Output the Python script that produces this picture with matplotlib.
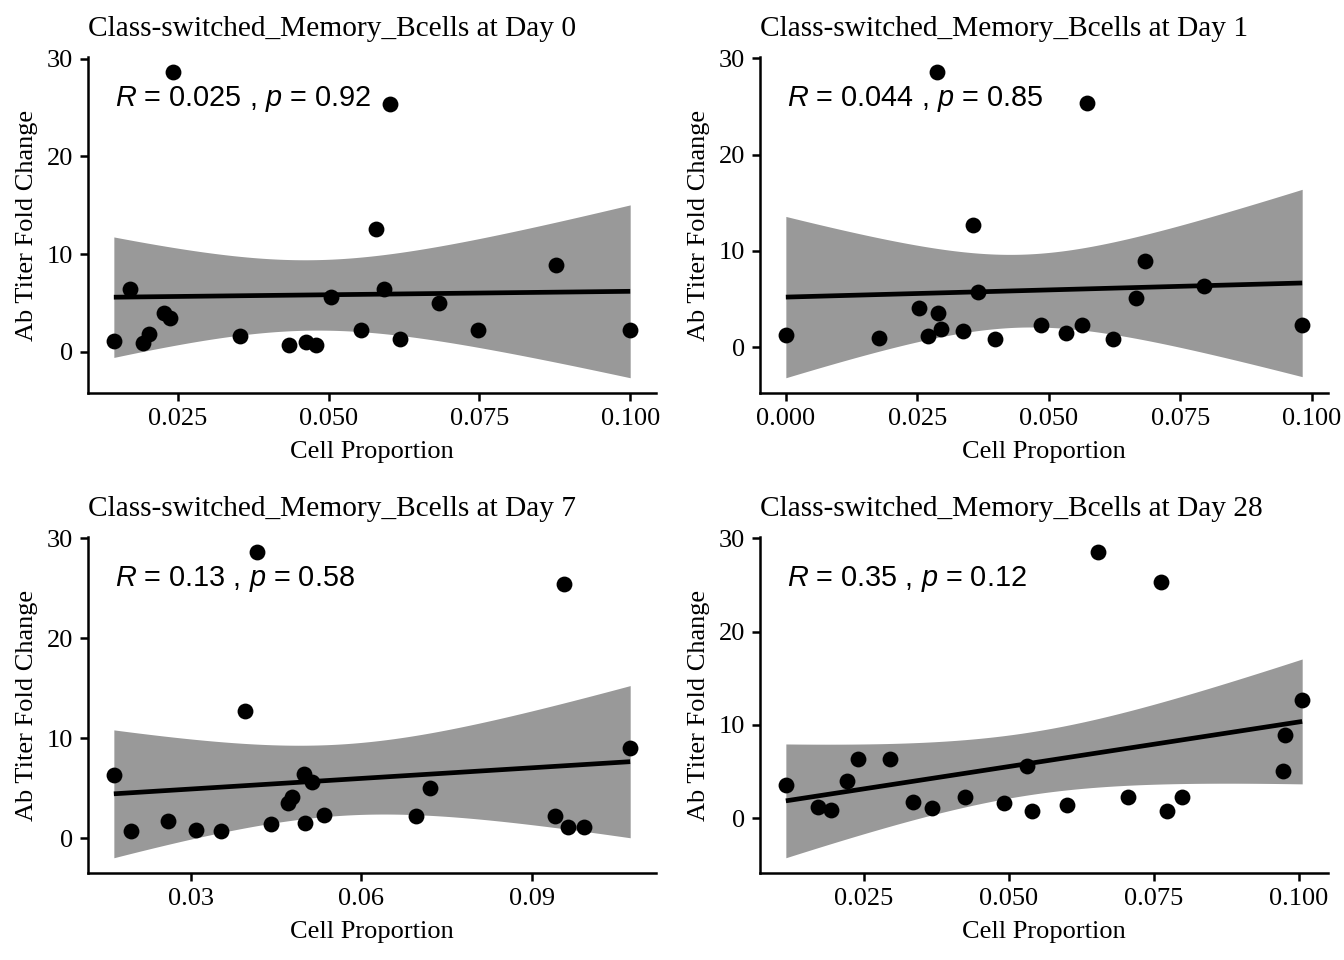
import numpy as np
import matplotlib
matplotlib.use("Agg")
import matplotlib.pyplot as plt

plt.rcParams['font.family'] = ['Liberation Serif', 'DejaVu Serif']
plt.rcParams['mathtext.fontset'] = 'custom'
plt.rcParams['mathtext.rm'] = 'Liberation Sans'
plt.rcParams['mathtext.it'] = 'Liberation Sans:italic'

# cell proportion / fold change
day0_x = [0.0242, 0.0601, 0.0578, 0.0877, 0.0170, 0.0592, 0.0504, 0.0683, 0.0227, 0.0237, 0.0202,
          0.0193, 0.0144, 0.0353, 0.0435, 0.0463, 0.0479, 0.0554, 0.0618, 0.0747, 0.1000]
day0_y = [28.6, 25.4, 12.6, 8.9, 6.4, 6.4, 5.6, 5.0, 4.0, 3.5, 1.8,
          0.85, 1.1, 1.6, 0.74, 1.0, 0.74, 2.2, 1.35, 2.2, 2.2]

day1_x = [0.0287, 0.0572, 0.0355, 0.0683, 0.0796, 0.0366, 0.0665, 0.0254, 0.0290, 0.0296,
          0.0270, 0.0000, 0.0177, 0.0337, 0.0398, 0.0485, 0.0532, 0.0563, 0.0622, 0.0982]
day1_y = [28.55, 25.4, 12.7, 8.97, 6.38, 5.69, 5.07, 4.03, 3.55, 1.83,
          1.14, 1.21, 0.93, 1.62, 0.86, 2.31, 1.48, 2.31, 0.86, 2.31]

day7_x = [0.0417, 0.0956, 0.0395, 0.1073, 0.0165, 0.0500, 0.0513, 0.0721, 0.0478, 0.0471, 0.0260,
          0.0195, 0.0310, 0.0354, 0.0442, 0.0501, 0.0535, 0.0696, 0.0940, 0.0963, 0.0991]
day7_y = [28.6, 25.4, 12.7, 9.0, 6.35, 6.41, 5.65, 5.05, 4.09, 3.52, 1.76,
          0.76, 0.86, 0.76, 1.43, 1.53, 2.29, 2.26, 2.26, 1.10, 1.10]

day28_x = [0.0653, 0.0763, 0.1006, 0.0976, 0.0973, 0.0239, 0.0295, 0.0531, 0.0221, 0.0115, 0.0170,
           0.0193, 0.0334, 0.0367, 0.0425, 0.0492, 0.0539, 0.0600, 0.0706, 0.0773, 0.0798]
day28_y = [28.5, 25.3, 12.7, 8.93, 5.05, 6.33, 6.33, 5.62, 3.99, 3.56, 1.14,
           0.89, 1.78, 1.10, 2.24, 1.64, 0.75, 1.42, 2.24, 0.78, 2.24]

days = ["0", "1", "7", "28"]
cor_labels = [("0.025", "0.92"), ("0.044", "0.85"), ("0.13", "0.58"), ("0.35", "0.12")]
xticks = [[0.025, 0.050, 0.075, 0.100],
          [0.000, 0.025, 0.050, 0.075, 0.100],
          [0.03, 0.06, 0.09],
          [0.025, 0.050, 0.075, 0.100]]
xtick_fmt = ["{:.3f}", "{:.3f}", "{:.2f}", "{:.3f}"]
yticks = [0, 10, 20, 30]

# 97.5% t quantiles by residual degrees of freedom
t975 = {18: 2.101, 19: 2.093}

panels = [(day0_x, day0_y), (day1_x, day1_y), (day7_x, day7_y), (day28_x, day28_y)]
positions = [[0.0655, 0.5906, 0.4226, 0.35],
             [0.5655, 0.5906, 0.4226, 0.35],
             [0.0655, 0.0906, 0.4226, 0.35],
             [0.5655, 0.0906, 0.4226, 0.35]]

fig = plt.figure(figsize=(13.44, 9.6), dpi=100)

for i, (xs, ys) in enumerate(panels):
    ax = fig.add_axes(positions[i])
    x = np.array(xs)
    y = np.array(ys)
    n = len(x)

    # linear fit with 95% confidence band (like geom_smooth(method="lm"))
    b1, b0 = np.polyfit(x, y, 1)
    resid = y - (b0 + b1 * x)
    s = np.sqrt(np.sum(resid ** 2) / (n - 2))
    xg = np.linspace(x.min(), x.max(), 200)
    yg = b0 + b1 * xg
    se = s * np.sqrt(1 / n + (xg - x.mean()) ** 2 / np.sum((x - x.mean()) ** 2))
    t = t975[n - 2]

    ax.fill_between(xg, yg - t * se, yg + t * se, color="#999999", linewidth=0, zorder=1)
    ax.plot(xg, yg, color="black", linewidth=3.4, zorder=2, solid_capstyle="butt")
    ax.scatter(x, y, s=130, color="black", linewidths=0, zorder=3)

    r, p = cor_labels[i]
    ax.text(0.047, 0.876, r"$R$ = " + r + r" , $p$ = " + p, transform=ax.transAxes,
            ha="left", va="center", fontsize=20.8, family="Liberation Sans")

    ax.set_title("Class-switched_Memory_Bcells at Day " + days[i], loc="left",
                 fontsize=21.2, pad=15)
    ax.set_xlabel("Cell Proportion", fontsize=19, labelpad=8)
    ax.set_ylabel("Ab Titer Fold Change", fontsize=19, labelpad=6)

    ax.set_xticks(xticks[i])
    ax.set_xticklabels([xtick_fmt[i].format(v) for v in xticks[i]])
    ax.set_yticks(yticks)
    ax.tick_params(axis="both", labelsize=19, length=6, width=1.8, color="black",
                   labelcolor="black", pad=5)

    for side in ["top", "right"]:
        ax.spines[side].set_visible(False)
    for side in ["left", "bottom"]:
        ax.spines[side].set_linewidth(1.8)

fig.savefig("out.png", dpi=100)
